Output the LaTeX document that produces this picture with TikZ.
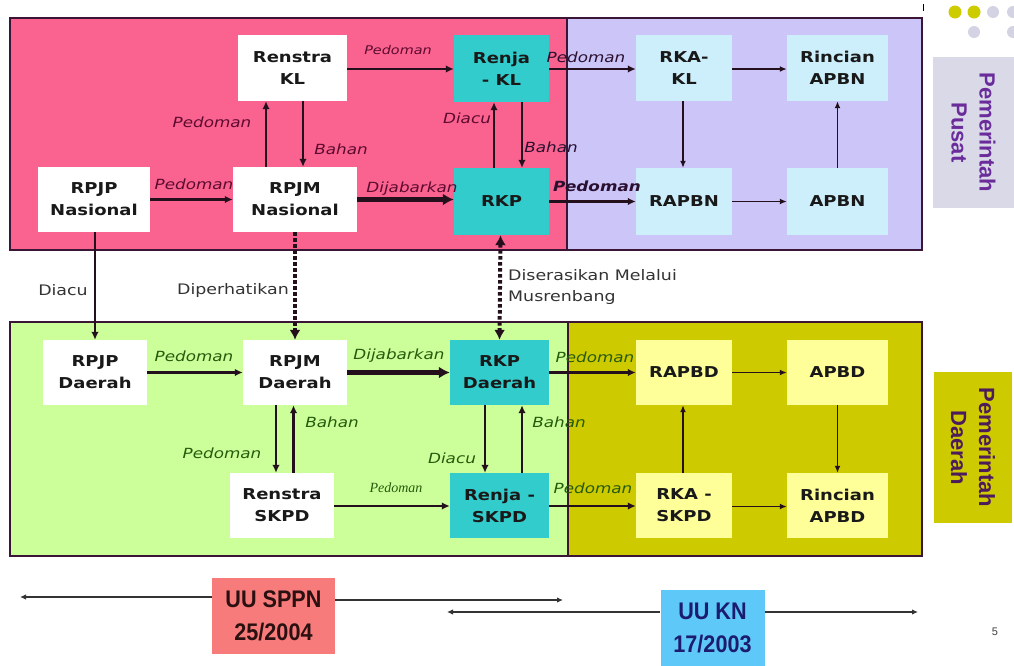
\documentclass[tikz,border=0pt]{standalone}
\usepackage{fontspec}
\setmainfont{DejaVu Sans}[FakeStretch=1.2]
\newfontfamily\lsans{Liberation Sans}
\newfontfamily\lnarrow{Liberation Sans}[FakeStretch=0.9]
\newfontfamily\lserif{Liberation Serif}
\usetikzlibrary{arrows.meta}
\definecolor{pinkbg}{HTML}{FA6290}
\definecolor{lavbg}{HTML}{CBC5F8}
\definecolor{greenbg}{HTML}{CCFF99}
\definecolor{olivebg}{HTML}{CECA00}
\definecolor{tealbox}{HTML}{33CCCC}
\definecolor{bluebox}{HTML}{CDEEFB}
\definecolor{yelbox}{HTML}{FFFF99}
\definecolor{regline}{HTML}{3A1535}
\definecolor{arrcol}{HTML}{24101C}
\definecolor{labpink}{HTML}{5C0B2E}
\definecolor{labgreen}{HTML}{265A0D}
\definecolor{labdark}{HTML}{2A1030}
\definecolor{pusatbg}{HTML}{D9D9E8}
\definecolor{pusattx}{HTML}{6A2C9A}
\definecolor{daerahtx}{HTML}{4B1B5B}
\definecolor{dotyel}{HTML}{CCCC00}
\definecolor{dotgray}{HTML}{D3D3E3}
\definecolor{sppnbg}{HTML}{F77B7B}
\definecolor{knbg}{HTML}{5EC8F8}
\definecolor{sppntx}{HTML}{2A1010}
\definecolor{kntx}{HTML}{1C1C6E}
\begin{document}
\begin{tikzpicture}[x=1pt,y=-1pt,
  box/.style={draw=none, inner sep=0pt, align=center, text=black!90,
    font=\fontsize{15}{22}\selectfont\bfseries},
  lab/.style={inner sep=0pt, font=\fontsize{14}{16}\selectfont\itshape},
  plain/.style={inner sep=0pt, align=left, text=black!80, font=\fontsize{14.5}{21}\selectfont},
  arr/.style={draw=arrcol, line width=2.3pt, -{Latex[length=8pt,width=7.5pt]}},
  thinarr/.style={draw=arrcol, line width=1.6pt, -{Latex[length=7pt,width=6pt]}},
  thickarr/.style={draw=arrcol, line width=4.5pt, -{Latex[length=11pt,width=12pt]}},
  dotarr/.style={draw=arrcol, line width=4pt, dash pattern=on 3.5pt off 2.5pt, -{Latex[length=10pt,width=11pt]}},
  dotarrb/.style={draw=arrcol, line width=4pt, dash pattern=on 3.5pt off 2.5pt, {Latex[length=10pt,width=11pt]}-{Latex[length=10pt,width=11pt]}},
  botarr/.style={draw=black!80, line width=1.4pt, -{Latex[length=6pt,width=5.5pt]}}
]
\useasboundingbox (0,0) rectangle (1014,665);
\fill[white] (0,0) rectangle (1014,665);
% regions
\fill[pinkbg] (10,18) rectangle (567,250);
\fill[lavbg] (567,18) rectangle (922,250);
\fill[greenbg] (10,322) rectangle (568,556);
\fill[olivebg] (568,322) rectangle (922,556);
\draw[regline, line width=1.5pt] (10,18) rectangle (922,250);
\draw[regline, line width=1.5pt] (567,18) -- (567,250);
\draw[regline, line width=1.5pt] (10,322) rectangle (922,556);
\draw[regline, line width=1.5pt] (568,322) -- (568,556);
% decoration
\fill[dotyel] (955,12) circle (6.5pt);
\fill[dotyel] (974,12) circle (6.5pt);
\fill[dotgray] (993,12) circle (6pt);
\fill[dotgray] (1013,12) circle (6pt);
\fill[dotgray] (974,32) circle (6pt);
\fill[dotgray] (1013,32) circle (6pt);
\draw[black, line width=1pt] (923,4) -- (923,11);
% national boxes
\node[box, fill=white, minimum width=109pt, minimum height=66pt] (rsKL) at (292.5,68) {Renstra\\KL};
\node[box, fill=white, minimum width=112pt, minimum height=65pt] (rpjpN) at (94,199.5) {RPJP\\Nasional};
\node[box, fill=white, minimum width=124pt, minimum height=65pt] (rpjmN) at (295,199.5) {RPJM\\Nasional};
\node[box, fill=tealbox, minimum width=95pt, minimum height=67pt] (renjaKL) at (501.5,68.5) {Renja\\- KL};
\node[box, fill=tealbox, minimum width=95pt, minimum height=67pt] (rkp) at (501.5,201.5) {RKP};
\node[box, fill=bluebox, minimum width=96pt, minimum height=66pt] (rkaKL) at (684,68) {RKA-\\KL};
\node[box, fill=bluebox, minimum width=101pt, minimum height=66pt] (rinN) at (837.5,68) {Rincian\\APBN};
\node[box, fill=bluebox, minimum width=96pt, minimum height=67pt] (rapbn) at (684,201.5) {RAPBN};
\node[box, fill=bluebox, minimum width=101pt, minimum height=67pt] (apbn) at (837.5,201.5) {APBN};
% regional boxes
\node[box, fill=white, minimum width=104pt, minimum height=65pt] (rpjpD) at (95,372.5) {RPJP\\Daerah};
\node[box, fill=white, minimum width=104pt, minimum height=65pt] (rpjmD) at (295,372.5) {RPJM\\Daerah};
\node[box, fill=white, minimum width=104pt, minimum height=65pt] (rsSKPD) at (282,505.5) {Renstra\\SKPD};
\node[box, fill=tealbox, minimum width=99pt, minimum height=65pt] (rkpD) at (499.5,372.5) {RKP\\Daerah};
\node[box, fill=tealbox, minimum width=99pt, minimum height=65pt] (renjaS) at (499.5,505.5) {Renja -\\SKPD};
\node[box, fill=yelbox, minimum width=96pt, minimum height=65pt] (rapbd) at (684,372.5) {RAPBD};
\node[box, fill=yelbox, minimum width=101pt, minimum height=65pt] (apbd) at (837.5,372.5) {APBD};
\node[box, fill=yelbox, minimum width=96pt, minimum height=65pt] (rkaS) at (684,505.5) {RKA -\\SKPD};
\node[box, fill=yelbox, minimum width=101pt, minimum height=65pt] (rinD) at (837.5,505.5) {Rincian\\APBD};
% side labels
\node[fill=pusatbg, minimum width=151pt, minimum height=81pt, rotate=-90, inner sep=0pt, align=center,
  text=pusattx, font=\lsans\fontsize{22}{28}\selectfont\bfseries] (pusat) at (973.5,132.5) {Pemerintah\\Pusat};
\node[fill=olivebg, minimum width=151pt, minimum height=78pt, rotate=-90, inner sep=0pt, align=center,
  text=daerahtx, font=\lsans\fontsize{22}{28}\selectfont\bfseries] (daerah) at (973,447.5) {Pemerintah\\Daerah};
% national arrows
\draw[arr] (rpjpN) -- (rpjmN);
\draw[arr] ([xshift=-29pt]rpjmN.north) -- ([xshift=-26.5pt]rsKL.south);
\draw[arr] ([xshift=10.5pt]rsKL.south) -- ([xshift=8pt]rpjmN.north);
\draw[arr] ([yshift=-1pt]rsKL.east) -- ([yshift=-0.5pt]renjaKL.west);
\draw[thickarr] (rpjmN.east) -- (rkp.west |- rpjmN.east);
\draw[arr] ([xshift=-7.5pt]rkp.north) -- ([xshift=-7.5pt]renjaKL.south);
\draw[arr] ([xshift=20.5pt]renjaKL.south) -- ([xshift=20.5pt]rkp.north);
\draw[arr] ([yshift=-0.5pt]renjaKL.east) -- ([yshift=-1pt]rkaKL.west);
\draw[arr] (rkp) -- (rapbn);
\draw[thinarr] ([xshift=-1pt]rkaKL.south) -- ([xshift=-1pt]rapbn.north);
\draw[thinarr] ([yshift=-1pt]rkaKL.east) -- ([yshift=-1pt]rinN.west);
\draw[thinarr] (rapbn) -- (apbn);
\draw[thinarr] (apbn.north) -- (rinN.south);
% between
\draw[arr] ([xshift=1pt]rpjpN.south) -- (rpjpD.north);
\draw[dotarr] (rpjmN.south) -- (rpjmD.north);
\draw[dotarrb] ([xshift=-1pt]rkp.south) -- (rkpD.north);
% regional arrows
\draw[arr] (rpjpD) -- (rpjmD);
\draw[thickarr] (rpjmD) -- (rkpD);
\draw[arr] ([xshift=-19pt]rpjmD.south) -- ([xshift=-6pt]rsSKPD.north);
\draw[arr] ([xshift=11.5pt]rsSKPD.north) -- ([xshift=-1.5pt]rpjmD.south);
\draw[arr] ([yshift=-0.5pt]rsSKPD.east) -- ([yshift=-0.5pt]renjaS.west);
\draw[arr] ([xshift=-14.5pt]rkpD.south) -- ([xshift=-14.5pt]renjaS.north);
\draw[arr] ([xshift=22.5pt]renjaS.north) -- ([xshift=22.5pt]rkpD.south);
\draw[arr] (rkpD) -- (rapbd);
\draw[arr] ([yshift=-0.5pt]renjaS.east) -- ([yshift=-0.5pt]rkaS.west);
\draw[thinarr] (rapbd) -- (apbd);
\draw[thinarr] ([xshift=-1pt]rkaS.north) -- ([xshift=-1pt]rapbd.south);
\draw[thinarr] (apbd.south) -- (rinD.north);
\draw[thinarr] ([yshift=-1pt]rkaS.east) -- ([yshift=-1pt]rinD.west);
% labels national
\node[lab, text=labpink] (l1) at (194,184) {Pedoman};
\node[lab, text=labpink] (l2) at (212,122) {Pedoman};
\node[lab, text=labpink] (l3) at (341,149) {Bahan};
\node[lab, text=labpink, font=\fontsize{12}{14}\selectfont\itshape] (l4) at (398,50) {Pedoman};
\node[lab, text=labpink] (l5) at (412,189) {Dijabarkan};
\node[lab, text=labpink] (l6) at (467,118) {Diacu};
\node[lab, text=labdark] (l7) at (551,147) {Bahan};
\node[lab, text=labdark] (l8) at (586,57) {Pedoman};
\node[lab, text=labdark, font=\fontsize{14}{16}\selectfont\bfseries\itshape] (l9) at (597,186) {Pedoman};
% labels between
\node[plain] (l10) at (63,290) {Diacu};
\node[plain] (l11) at (233,290) {Diperhatikan};
\node[plain, anchor=west] (l12) at (508,287) {Diserasikan Melalui\\Musrenbang};
% labels regional
\node[lab, text=labgreen] (l13) at (194,356) {Pedoman};
\node[lab, text=labgreen] (l14) at (399,356) {Dijabarkan};
\node[lab, text=labgreen] (l15) at (222,453) {Pedoman};
\node[lab, text=labgreen] (l16) at (332,422) {Bahan};
\node[lab, text=labgreen, font=\lserif\fontsize{14}{16}\selectfont\itshape] (l17) at (396,488) {Pedoman};
\node[lab, text=labgreen] (l18) at (452,458) {Diacu};
\node[lab, text=labgreen] (l19) at (559,422) {Bahan};
\node[lab, text=labgreen] (l20) at (595,357) {Pedoman};
\node[lab, text=labgreen] (l21) at (593,488) {Pedoman};
% bottom
\node[fill=sppnbg, minimum width=123pt, minimum height=76pt, inner sep=0pt, align=center, text=sppntx,
  font=\lnarrow\fontsize{24}{33}\selectfont\bfseries] (uuS) at (273.5,616) {UU SPPN\\25/2004};
\node[fill=knbg, minimum width=104pt, minimum height=76pt, inner sep=0pt, align=center, text=kntx,
  font=\lnarrow\fontsize{24}{33}\selectfont\bfseries] (uuK) at (712.5,628) {UU KN\\17/2003};
\coordinate (e1) at (20,597);
\coordinate (e2) at (563,600);
\coordinate (e3) at (447,612);
\coordinate (e4) at (918,612);
\draw[botarr] ([yshift=19pt]uuS.west) -- (e1);
\draw[botarr] ([yshift=16pt]uuS.east) -- (e2);
\draw[botarr] ([yshift=16pt]uuK.west) -- (e3);
\draw[botarr] ([yshift=16pt]uuK.east) -- (e4);
\node[inner sep=0pt, text=black!75, font=\lsans\fontsize{11}{12}\selectfont] (pg) at (995,632) {5};
\end{tikzpicture}
\end{document}
